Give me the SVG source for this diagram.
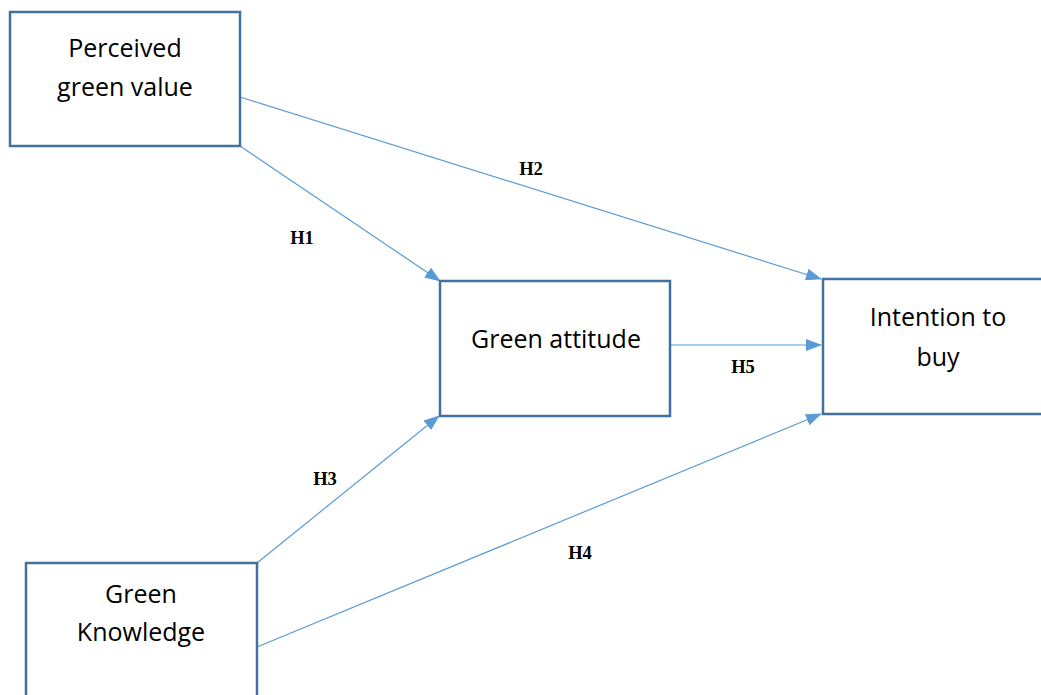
<svg xmlns="http://www.w3.org/2000/svg" width="1041" height="695" viewBox="0 0 1041 695">
<defs>
<marker id="ah" markerWidth="16" markerHeight="12" refX="15" refY="6" orient="auto" markerUnits="userSpaceOnUse">
<path d="M0,0 L16,6 L0,12 Z" fill="#5B9BD5"/>
</marker>
</defs>
<style>
.box{fill:#fff;stroke:#41719C;stroke-width:2.5}
.t{font-family:"Open Sans","Liberation Sans",sans-serif;font-size:25px;fill:#000;text-anchor:middle}
.h{font-family:"Liberation Serif",serif;font-weight:bold;font-size:18.5px;fill:#000;text-anchor:middle}
.c{stroke:#5B9BD5;stroke-width:1.2;fill:none;marker-end:url(#ah)}
</style>
<rect width="1041" height="695" fill="#fff"/>
<g id="connectors">
<line class="c" x1="240" y1="97" x2="821" y2="279"/>
<line class="c" x1="240" y1="146" x2="440" y2="281"/>
<line class="c" x1="671" y1="345" x2="821" y2="345"/>
<line class="c" x1="257" y1="563" x2="439" y2="416"/>
<line class="c" x1="257" y1="647" x2="821" y2="414"/>
</g>
<g id="labels">
<text class="h" x="302" y="244">H1</text>
<text class="h" x="531" y="175">H2</text>
<text class="h" x="325" y="485">H3</text>
<text class="h" x="580" y="559">H4</text>
<text class="h" x="743" y="373">H5</text>
</g>
<g id="node-pgv">
<rect class="box" x="10" y="12" width="230" height="134"/>
<text class="t" x="125" y="57">Perceived</text>
<text class="t" x="125" y="96">green value</text>
</g>
<g id="node-ga">
<rect class="box" x="440" y="281" width="230" height="135"/>
<text class="t" x="556" y="348">Green attitude</text>
</g>
<g id="node-itb">
<rect class="box" x="823" y="279" width="230" height="135"/>
<text class="t" x="938" y="326">Intention to</text>
<text class="t" x="938" y="366">buy</text>
</g>
<g id="node-gk">
<rect class="box" x="26" y="563" width="231" height="145"/>
<text class="t" x="141" y="603">Green</text>
<text class="t" x="141" y="641">Knowledge</text>
</g>
</svg>
